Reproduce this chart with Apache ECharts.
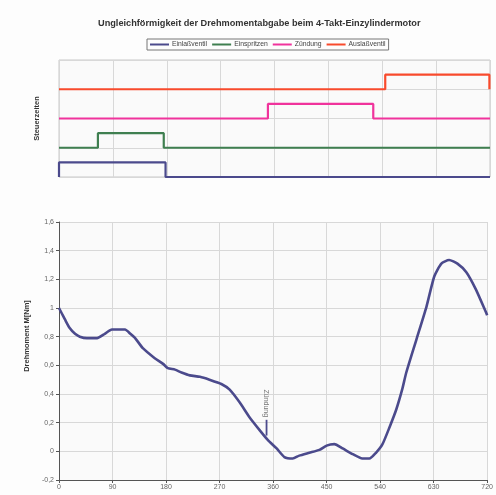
<!DOCTYPE html>
<html><head><meta charset="utf-8">
<script src="https://cdn.jsdelivr.net/npm/echarts@6/dist/echarts.min.js"></script>
<style>html,body{margin:0;padding:0;background:#fff}#c{width:496px;height:495px}</style>
</head><body><div id="c"></div>
<script>
const title = 'Ungleichförmigkeit der Drehmomentabgabe beim 4-Takt-Einzylindermotor';
const seriesNames = ['Einlaßventil', 'Einspritzen', 'Zündung', 'Auslaßventil'];
const seriesColors = ['#4b4a8c', '#3f7f50', '#f0339c', '#f84a2c'];
const xTicks = [0, 90, 180, 270, 360, 450, 540, 630, 720];
// control timing steps [crank angle, level]
const einlass = [[0, 0], [0, 0.5], [178, 0.5], [178, 0], [720, 0]];
const einspritzen = [[0, 1], [65, 1], [65, 1.5], [175, 1.5], [175, 1], [720, 1]];
const zuendung = [[0, 2], [349, 2], [349, 2.5], [525, 2.5], [525, 2], [720, 2]];
const auslass = [[0, 3], [545, 3], [545, 3.5], [719, 3.5], [719, 3], [720, 3]];
// torque curve [crank angle, Nm]
const torque = [
[0,1.00],[5,0.96],[10,0.92],[18,0.86],[27,0.82],[35,0.80],[47,0.79],[64,0.79],[77,0.82],[89,0.85],
[100,0.85],[111,0.85],[120,0.82],[128,0.79],[141,0.72],[161,0.65],[175,0.61],[183,0.58],[195,0.57],
[206,0.55],[220,0.53],[237,0.52],[253,0.50],[273,0.47],[287,0.43],[304,0.34],[320,0.24],[337,0.15],
[351,0.08],[366,0.02],[379,-0.04],[393,-0.05],[404,-0.03],[421,-0.01],[438,0.01],[450,0.04],[463,0.05],
[477,0.02],[494,-0.02],[510,-0.05],[522,-0.05],[533,-0.01],[544,0.05],[556,0.17],[567,0.29],[577,0.43],
[584,0.55],[601,0.78],[618,1.01],[631,1.22],[643,1.31],[656,1.335],[670,1.31],[685,1.25],[701,1.13],
[718,0.97],[720,0.95]
];
const zuendMarker = [[349, 0.11], [349, 0.22]];
const zuendLabelPos = [[349, 0.235]];
const zuendLabel = 'Zündung';

const chart = echarts.init(document.getElementById('c'));
const fontFam = '"Liberation Sans", Arial, sans-serif';
const stepSeries = [einlass, einspritzen, zuendung, auslass].map((d, i) => ({
  name: seriesNames[i], type: 'line', xAxisIndex: 0, yAxisIndex: 0, data: d,
  symbol: 'none', lineStyle: {width: 2.2, color: seriesColors[i]}, itemStyle: {color: seriesColors[i]}
}));
chart.setOption({
  animation: false,
  backgroundColor: '#fdfdfd',
  textStyle: {fontFamily: fontFam},
  title: {text: title, left: 93, top: 14, textStyle: {fontSize: 9.2, fontWeight: 'bold', color: '#333', fontFamily: fontFam}},
  legend: {
    data: seriesNames, top: 39, left: 147, itemWidth: 19, itemHeight: 2, itemGap: 5, icon: 'rect',
    borderColor: '#777', borderWidth: 1, padding: [2, 3], textStyle: {fontSize: 6.8, color: '#444', padding: [0, 0, 0, -2]}
  },
  grid: [
    {left: 59, right: 6, top: 60, height: 117, show: true, backgroundColor: '#fafafa', borderColor: '#c8c8c8', borderWidth: 1},
    {left: 59, right: 7, top: 222, height: 258, show: true, backgroundColor: '#fafafa', borderColor: '#d0d0d0', borderWidth: 0}
  ],
  xAxis: [
    {gridIndex: 0, type: 'value', min: 0, max: 720, interval: 90, axisLabel: {show: false}, axisTick: {show: false},
     axisLine: {show: false}, splitLine: {lineStyle: {color: '#d8d8d8'}}},
    {gridIndex: 1, type: 'value', min: 0, max: 720, interval: 90, axisLabel: {fontSize: 7, color: '#666', margin: 4},
     axisTick: {show: true, length: 3, lineStyle: {color: '#555'}}, axisLine: {onZero: false, lineStyle: {color: '#555'}},
     splitLine: {lineStyle: {color: '#d8d8d8'}}}
  ],
  yAxis: [
    {gridIndex: 0, type: 'value', min: 0, max: 4, interval: 1, name: 'Steuerzeiten', nameLocation: 'middle', nameGap: 18,
     nameTextStyle: {fontSize: 7.5, fontWeight: 'bold', color: '#333'},
     axisLabel: {show: false}, axisTick: {show: false}, axisLine: {show: false}, splitLine: {lineStyle: {color: '#d8d8d8'}}},
    {gridIndex: 1, type: 'value', min: -0.2, max: 1.6, interval: 0.2, name: 'Drehmoment M[Nm]', nameLocation: 'middle', nameGap: 23,
     nameTextStyle: {fontSize: 7.5, fontWeight: 'bold', color: '#333', padding: [0, 0, 0, 30]},
     axisLabel: {fontSize: 7, color: '#666', margin: 5, formatter: v => (Math.round(v * 10) / 10).toString().replace('.', ',')},
     axisTick: {show: true, length: 3, lineStyle: {color: '#555'}}, axisLine: {onZero: false, lineStyle: {color: '#555'}},
     splitLine: {lineStyle: {color: '#d8d8d8'}}}
  ],
  series: stepSeries.concat([
    {name: 'Drehmoment', type: 'line', xAxisIndex: 1, yAxisIndex: 1, data: torque, symbol: 'none', smooth: 0.2,
     lineStyle: {width: 2.6, color: '#4b4a8c'}},
    {name: 'ZündMarker', type: 'line', xAxisIndex: 1, yAxisIndex: 1, data: zuendMarker, symbol: 'none',
     lineStyle: {width: 1.8, color: '#4b4a8c'}},
    {name: 'ZündLabel', type: 'scatter', xAxisIndex: 1, yAxisIndex: 1, data: zuendLabelPos, symbolSize: 1,
     itemStyle: {color: 'rgba(0,0,0,0)'},
     label: {show: true, formatter: zuendLabel, rotate: -90, position: [0, 0], align: 'right',
       verticalAlign: 'middle', fontSize: 7, color: '#555'}}
  ])
});
</script></body></html>
